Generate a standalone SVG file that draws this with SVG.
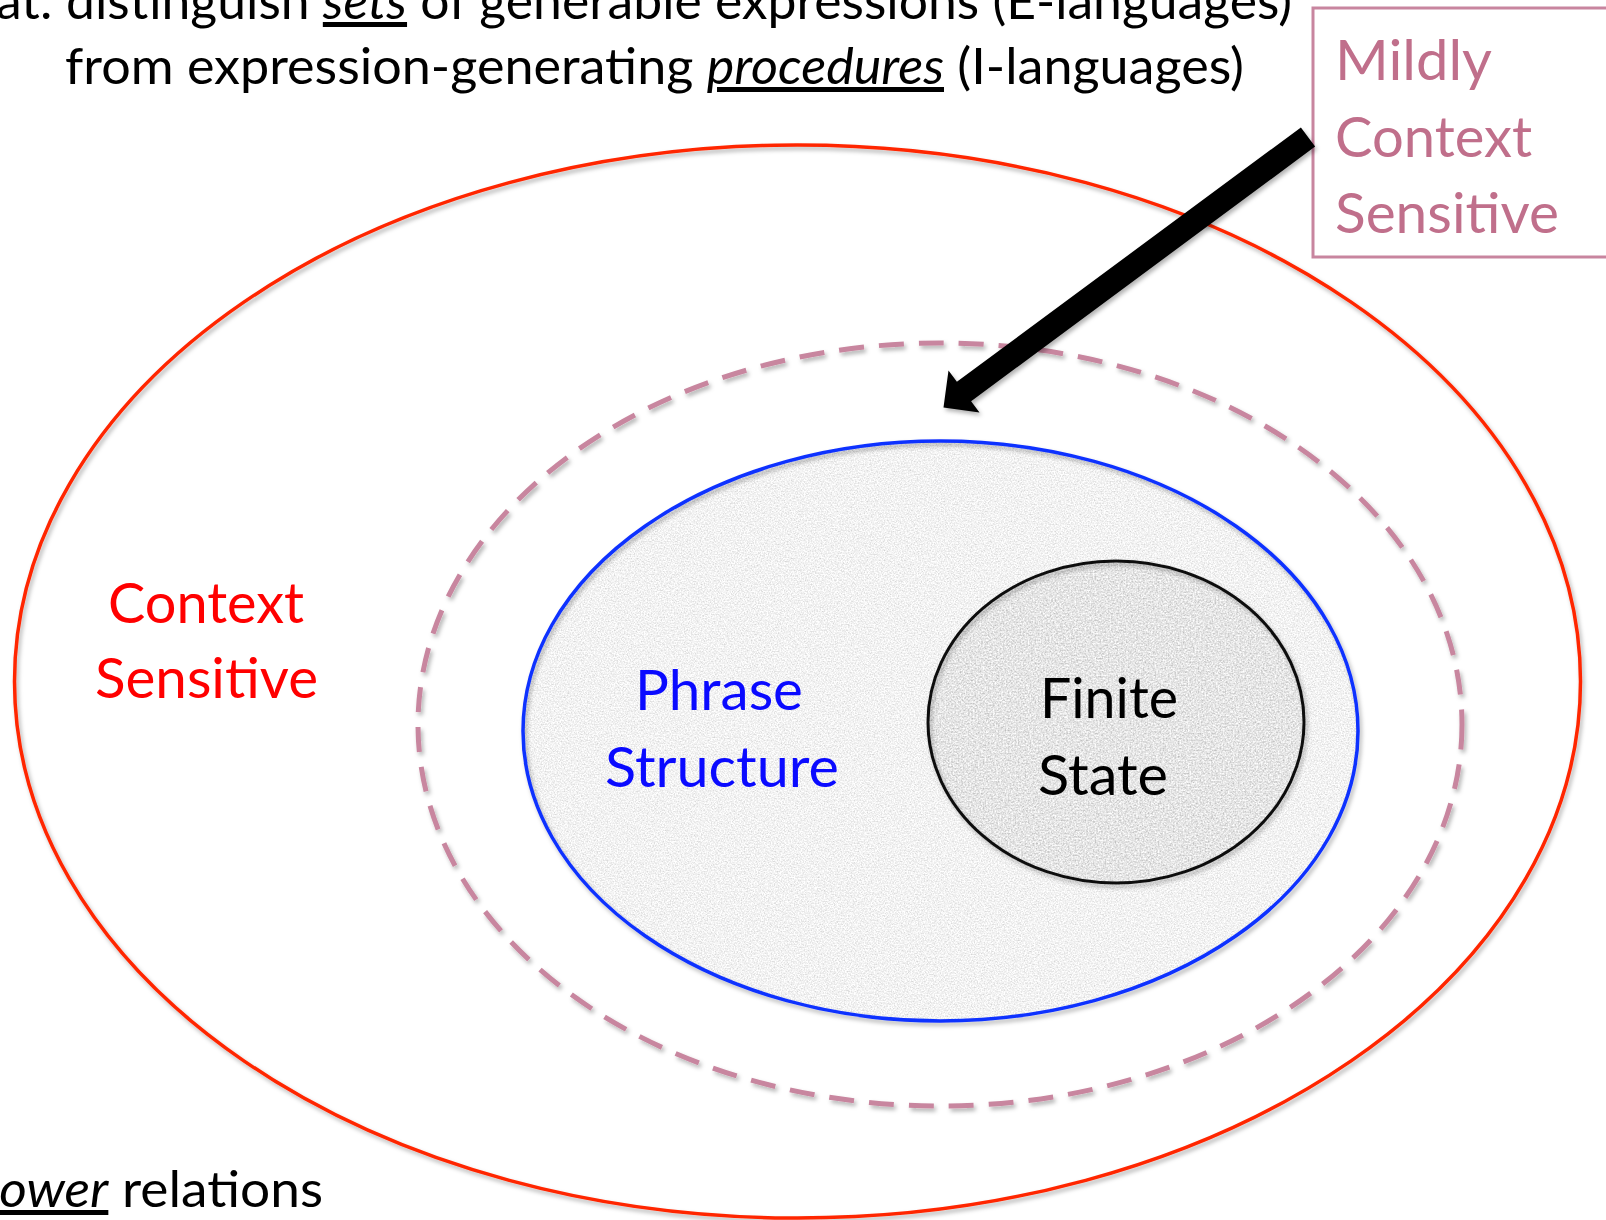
<svg xmlns="http://www.w3.org/2000/svg" width="1606" height="1220" viewBox="0 0 1606 1220">
  <style>
    text { font-family: Lato, "Open Sans", "Liberation Sans", sans-serif; }
    .hdr { font-size: 50px; fill: #000; }
    .lbl { font-size: 56px; }
    .em { font-style: italic; text-decoration: underline; }
    .ring { fill: none; }
  </style>
  <defs>
    <filter id="shadow" x="-10%" y="-10%" width="120%" height="120%">
      <feDropShadow dx="2" dy="3" stdDeviation="2" flood-color="#000" flood-opacity="0.3"/>
    </filter>
    <filter id="grainLight" x="0" y="0" width="100%" height="100%">
      <feTurbulence type="fractalNoise" baseFrequency="0.7" numOctaves="3" seed="7" result="n"/>
      <feColorMatrix in="n" type="matrix" values="0.6 0 0 0 0.59  0.6 0 0 0 0.59  0.6 0 0 0 0.59  0 0 0 0 1" result="g"/>
      <feComposite in="g" in2="SourceGraphic" operator="in"/>
    </filter>
    <filter id="grainDark" x="0" y="0" width="100%" height="100%">
      <feTurbulence type="fractalNoise" baseFrequency="0.6" numOctaves="3" seed="11" result="n"/>
      <feColorMatrix in="n" type="matrix" values="0.75 0 0 0 0.41  0.75 0 0 0 0.41  0.75 0 0 0 0.41  0 0 0 0 1" result="g"/>
      <feComposite in="g" in2="SourceGraphic" operator="in"/>
    </filter>
  </defs>

  <rect width="1606" height="1220" fill="#fff"/>

  <g id="header">
    <text class="hdr" x="-4" y="19" textLength="1296" lengthAdjust="spacingAndGlyphs">at: distinguish <tspan class="em">sets</tspan> of generable expressions (E-languages)</text>
    <text class="hdr" x="65" y="84" textLength="1179" lengthAdjust="spacingAndGlyphs">from expression-generating <tspan class="em">procedures</tspan> (I-languages)</text>
  </g>

  <g id="context-sensitive">
    <ellipse class="ring" cx="797.5" cy="681.5" rx="783" ry="536.5" stroke="#ff2600" stroke-width="3.5" filter="url(#shadow)"/>
    <text class="lbl" fill="#ff0000" x="108" y="623" textLength="196" lengthAdjust="spacingAndGlyphs">Context</text>
    <text class="lbl" fill="#ff0000" x="95" y="698" textLength="223" lengthAdjust="spacingAndGlyphs">Sensitive</text>
  </g>

  <g id="mildly-context-sensitive">
    <ellipse class="ring" cx="940" cy="724.5" rx="522" ry="381.5" stroke="#c8869f" stroke-width="5" stroke-dasharray="25 15" filter="url(#shadow)"/>
  </g>

  <g id="phrase-structure">
    <ellipse cx="940.5" cy="731" rx="417.5" ry="290" fill="#e6e6e6" filter="url(#grainLight)"/>
    <ellipse class="ring" cx="940.5" cy="731" rx="417.5" ry="290" stroke="#1030ff" stroke-width="3.5" filter="url(#shadow)"/>
    <text class="lbl" fill="#0a0aff" x="635" y="710" textLength="168" lengthAdjust="spacingAndGlyphs">Phrase</text>
    <text class="lbl" fill="#0a0aff" x="605" y="787" textLength="234" lengthAdjust="spacingAndGlyphs">Structure</text>
  </g>

  <g id="finite-state">
    <ellipse cx="1116" cy="722" rx="188" ry="161" fill="#cdcdcd" filter="url(#grainDark)"/>
    <ellipse class="ring" cx="1116" cy="722" rx="188" ry="161" stroke="#111" stroke-width="3" filter="url(#shadow)"/>
    <text class="lbl" fill="#000" x="1040" y="718" textLength="138" lengthAdjust="spacingAndGlyphs">Finite</text>
    <text class="lbl" fill="#000" x="1038" y="795" textLength="130" lengthAdjust="spacingAndGlyphs">State</text>
  </g>

  <g id="mildly-label">
    <rect x="1313" y="8" width="310" height="249" fill="none" stroke="#c8859f" stroke-width="3"/>
    <text class="lbl" fill="#c06f8b" x="1335" y="80" textLength="157" lengthAdjust="spacingAndGlyphs">Mildly</text>
    <text class="lbl" fill="#c06f8b" x="1335" y="157" textLength="197" lengthAdjust="spacingAndGlyphs">Context</text>
    <text class="lbl" fill="#c06f8b" x="1335" y="233" textLength="224" lengthAdjust="spacingAndGlyphs">Sensitive</text>
  </g>

  <g id="connectors">
    <polygon points="1300.9,127.4 956.9,381.8 948.5,370.6 943.5,407.5 979.5,412.4 971.1,401.2 1315.1,146.6" fill="#000" filter="url(#shadow)"/>
  </g>

  <g id="footer">
    <text class="hdr" x="-29" y="1207" textLength="352" lengthAdjust="spacingAndGlyphs"><tspan class="em">power</tspan> relations</text>
  </g>
</svg>
